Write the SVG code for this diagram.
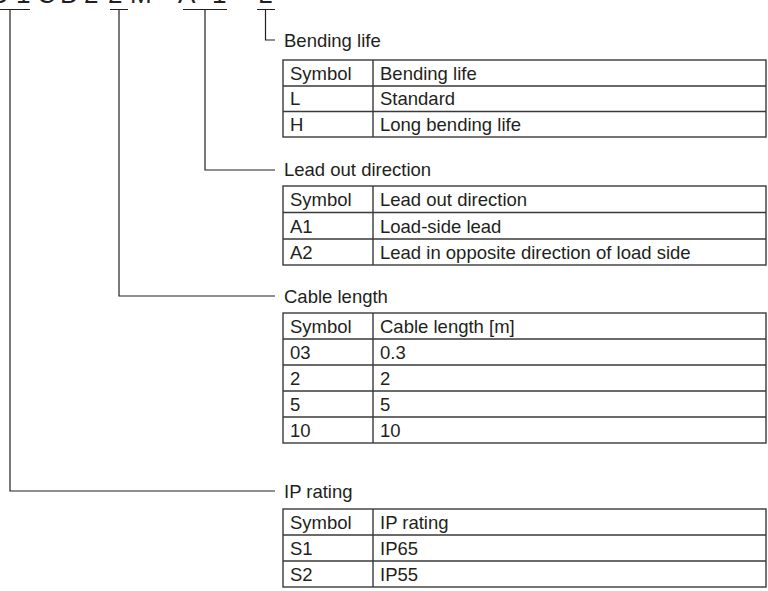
<svg xmlns="http://www.w3.org/2000/svg" width="768" height="591" viewBox="0 0 768 591">
<style>
text{font-family:"Liberation Sans",Arial,sans-serif;font-size:18.5px;fill:#231f20}
.code{font-size:26px}
.tb{fill:none;stroke:#3a3a3a;stroke-width:1.4}
.conn{fill:none;stroke:#231f20;stroke-width:1.2}
</style>
<rect width="768" height="591" fill="#fff"/>
<g id="code">
<text class="code" y="3"><tspan x="-10">S</tspan><tspan x="16">1</tspan><tspan x="37">C</tspan><tspan x="60">D</tspan><tspan x="84">2</tspan><tspan x="108">2</tspan><tspan x="130">M</tspan><tspan x="158">-</tspan><tspan x="178">A</tspan><tspan x="212">1</tspan><tspan x="232">-</tspan><tspan x="258">L</tspan></text>
</g>
<g id="connectors" class="conn">
<path d="M0 9.5H30M10 9.5V491H275"/>
<path d="M110 9.5H128M119 9.5V296H275"/>
<path d="M183 9.5H227M205 9.5V170H275"/>
<path d="M257 9.5H275M265.5 9.5V40H275"/>
</g>
<g id="bending-life">
<text x="284" y="47">Bending life</text>
<rect class="tb" x="283" y="60" width="483" height="77"/>
<path class="tb" d="M283 86H766M283 111.5H766M373 60V137"/>
<text x="290" y="80">Symbol</text><text x="380" y="80">Bending life</text>
<text x="290" y="105">L</text><text x="380" y="105">Standard</text>
<text x="290" y="131">H</text><text x="380" y="131">Long bending life</text>
</g>
<g id="lead-out-direction">
<text x="284" y="176">Lead out direction</text>
<rect class="tb" x="283" y="186" width="483" height="79"/>
<path class="tb" d="M283 212.5H766M283 239H766M373 186V265"/>
<text x="290" y="206">Symbol</text><text x="380" y="206">Lead out direction</text>
<text x="290" y="233">A1</text><text x="380" y="233">Load-side lead</text>
<text x="290" y="259">A2</text><text x="380" y="259">Lead in opposite direction of load side</text>
</g>
<g id="cable-length">
<text x="284" y="303">Cable length</text>
<rect class="tb" x="283" y="313" width="483" height="130"/>
<path class="tb" d="M283 339H766M283 365H766M283 391H766M283 417H766M373 313V443"/>
<text x="290" y="333">Symbol</text><text x="380" y="333">Cable length [m]</text>
<text x="290" y="359">03</text><text x="380" y="359">0.3</text>
<text x="290" y="385">2</text><text x="380" y="385">2</text>
<text x="290" y="411">5</text><text x="380" y="411">5</text>
<text x="290" y="437">10</text><text x="380" y="437">10</text>
</g>
<g id="ip-rating">
<text x="284" y="498">IP rating</text>
<rect class="tb" x="283" y="509" width="483" height="78"/>
<path class="tb" d="M283 535H766M283 561H766M373 509V587"/>
<text x="290" y="529">Symbol</text><text x="380" y="529">IP rating</text>
<text x="290" y="555">S1</text><text x="380" y="555">IP65</text>
<text x="290" y="581">S2</text><text x="380" y="581">IP55</text>
</g>
</svg>
